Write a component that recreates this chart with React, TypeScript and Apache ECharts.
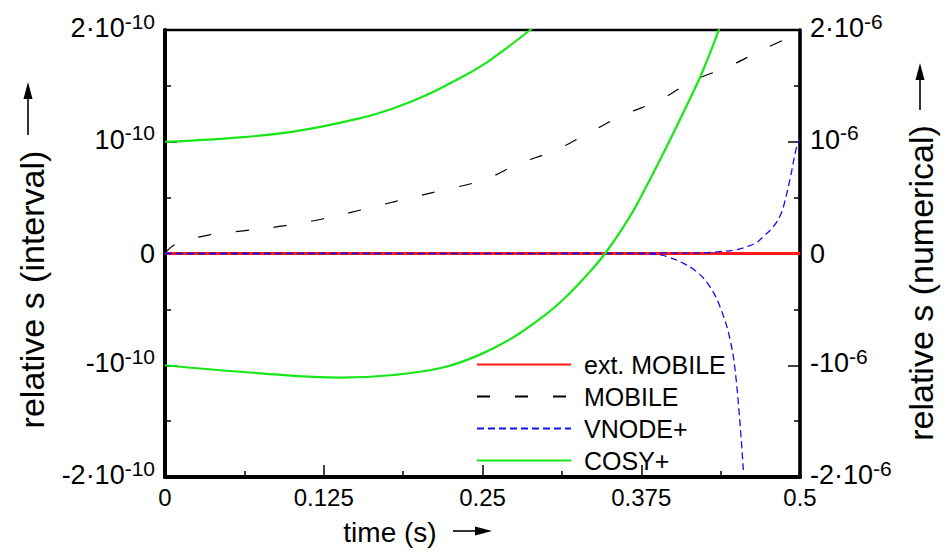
import React, { useEffect, useRef } from 'react';
import * as echarts from 'echarts';

// ---------- data ----------
// x: time (s)
const xTicks = [0, 0.125, 0.25, 0.375, 0.5];
const xTickLabels = ['0', '0.125', '0.25', '0.375', '0.5'];

// y tick labels (values -2..2), mantissa part + exponent part
const leftTickMain = ['-2·10', '-10', '0', '10', '2·10'];
const leftExp = '-10';
const rightTickMain = ['-2·10', '-10', '0', '10', '2·10'];
const rightExp = '-6';

// ext. MOBILE (left axis, units of 1e-10)
const extMobileX = [0, 0.5];
const extMobileY = [0, 0];

// MOBILE (right axis, units of 1e-6)
const mobileX = [0, 0.008, 0.0341, 0.063, 0.0945, 0.1239, 0.154, 0.1837, 0.217, 0.2512, 0.2787, 0.307, 0.3346, 0.361, 0.3898, 0.416, 0.4435, 0.47, 0.5];
const mobileY = [0, 0.08, 0.165, 0.204, 0.249, 0.309, 0.389, 0.472, 0.562, 0.66, 0.804, 0.923, 1.085, 1.239, 1.374, 1.547, 1.672, 1.821, 1.975];

// VNODE+ upper / lower bound (right axis, units of 1e-6)
const vnodeUpX = [0, 0.42, 0.44, 0.45, 0.458, 0.466, 0.471, 0.479, 0.484, 0.487, 0.492, 0.4974, 0.5];
const vnodeUpY = [0, 0.004, 0.02, 0.035, 0.061, 0.1, 0.15, 0.24, 0.33, 0.42, 0.658, 0.956, 1.02];
const vnodeLowX = [0, 0.375, 0.387, 0.396, 0.4055, 0.4187, 0.429, 0.437, 0.445, 0.45, 0.4554];
const vnodeLowY = [0, -0.001, -0.008, -0.03, -0.073, -0.163, -0.297, -0.476, -0.774, -1.16, -1.937];

// COSY+ upper / lower bound (left axis, units of 1e-10)
const cosyUpX = [0, 0.049, 0.101, 0.1535, 0.18, 0.206, 0.232, 0.248, 0.2585, 0.2874, 0.3];
const cosyUpY = [1.0, 1.031, 1.09, 1.21, 1.3, 1.418, 1.568, 1.67, 1.75, 2.0, 2.13];
const cosyLowX = [0, 0.0748, 0.1378, 0.18, 0.219, 0.248, 0.2743, 0.3005, 0.3136, 0.327, 0.3465, 0.366, 0.379, 0.3925, 0.4055, 0.421, 0.4344, 0.445];
const cosyLowY = [-1.0, -1.072, -1.111, -1.087, -1.02, -0.905, -0.75, -0.54, -0.412, -0.258, 0, 0.33, 0.6, 0.9, 1.2, 1.57, 1.95, 2.3];

const legendNames = ['ext. MOBILE', 'MOBILE', 'VNODE+', 'COSY+'];

const FONT = '"Liberation Sans", Arial, Helvetica, sans-serif';
const RED = '#ff1a1a';
const GREEN = '#17e617';
const BLUE = '#1010ee';
const BLACK = '#000000';

const zip = (xs: number[], ys: number[]) => xs.map((x, i) => [x, ys[i]]);

export default function App() {
  const ref = useRef<HTMLDivElement>(null);

  useEffect(() => {
    const chart = echarts.init(ref.current as HTMLDivElement, null, { renderer: 'svg' });

    const yRich = {
      m: { fontSize: 27, fontFamily: FONT, color: BLACK, padding: [4, 0, 8, 0] },
      s: { fontSize: 21, fontFamily: FONT, color: BLACK, verticalAlign: 'top' },
      z: { fontSize: 27, fontFamily: FONT, color: BLACK },
    };
    const yFmt = (mains: string[], exp: string) => (v: number) => {
      const i = Math.round(v) + 2;
      const m = mains[i];
      if (m === undefined) return '';
      return m === '0' ? '{z|0}' : `{m|${m}}{s|${exp}}`;
    };
    const xFmt = (v: number) => {
      const i = xTicks.findIndex((t) => Math.abs(t - v) < 1e-9);
      return i >= 0 ? xTickLabels[i] : '';
    };

    const tickCommon = {
      axisTick: { show: true, inside: true, length: 12, lineStyle: { color: BLACK, width: 1.5 } },
      minorTick: { show: true, splitNumber: 2, length: 6, lineStyle: { color: BLACK, width: 1.5 } },
      splitLine: { show: false },
      minorSplitLine: { show: false },
    };

    const yAxisBase = (pos: 'left' | 'right', width: number, mains: string[], exp: string) => ({
      type: 'value',
      position: pos,
      min: -2,
      max: 2,
      interval: 1,
      axisLine: { show: true, onZero: false, lineStyle: { color: BLACK, width } },
      ...tickCommon,
      axisLabel: {
        margin: 10,
        color: BLACK,
        fontFamily: FONT,
        fontSize: 27,
        formatter: yFmt(mains, exp),
        rich: yRich,
      },
    });

    const lineSeries = (name: string, xs: number[], ys: number[], yAxisIndex: number, color: string, width: number, type: any) => ({
      name,
      type: 'line',
      yAxisIndex,
      data: zip(xs, ys),
      symbol: 'none',
      showSymbol: false,
      smooth: 0.4,
      clip: true,
      color,
      itemStyle: { color },
      lineStyle: { color, width, type },
      emphasis: { disabled: true },
    });

    chart.setOption({
      animation: false,
      backgroundColor: '#ffffff',
      grid: {
        left: 165,
        right: 150,
        top: 30,
        bottom: 75,
        show: true,
        borderColor: BLACK,
        borderWidth: 2.5,
        backgroundColor: 'transparent',
      },
      xAxis: {
        type: 'value',
        position: 'bottom',
        min: 0,
        max: 0.5,
        interval: 0.125,
        axisLine: { show: true, onZero: false, lineStyle: { color: BLACK, width: 4 } },
        ...tickCommon,
        axisLabel: {
          margin: 8,
          color: BLACK,
          fontFamily: FONT,
          fontSize: 24,
          showMinLabel: true,
          showMaxLabel: true,
          formatter: xFmt,
        },
      },
      yAxis: [
        yAxisBase('left', 4, leftTickMain, leftExp),
        yAxisBase('right', 3.5, rightTickMain, rightExp),
      ],
      legend: {
        data: legendNames,
        orient: 'vertical',
        left: 476,
        top: 352,
        padding: 0,
        itemWidth: 94,
        itemHeight: 24,
        itemGap: 7,
        selectedMode: false,
        itemStyle: { opacity: 0 },
        textStyle: { fontSize: 25, fontFamily: FONT, color: BLACK, padding: [0, 0, 0, 8] },
      },
      series: [
        lineSeries('ext. MOBILE', extMobileX, extMobileY, 0, RED, 3, 'solid'),
        lineSeries('MOBILE', mobileX, mobileY, 1, BLACK, 1.2, [13, 25]),
        lineSeries('VNODE+', vnodeUpX, vnodeUpY, 1, BLUE, 1.3, [7, 4]),
        lineSeries('VNODE+', vnodeLowX, vnodeLowY, 1, BLUE, 1.3, [7, 4]),
        lineSeries('COSY+', cosyUpX, cosyUpY, 0, GREEN, 2.2, 'solid'),
        lineSeries('COSY+', cosyLowX, cosyLowY, 0, GREEN, 2.2, 'solid'),
      ],
      graphic: [
        {
          type: 'text',
          x: 390,
          y: 532,
          style: { text: 'time (s)', font: `28px ${FONT}`, fill: BLACK, align: 'center', verticalAlign: 'middle', textAlign: 'center', textVerticalAlign: 'middle' },
        },
        { type: 'line', shape: { x1: 453, y1: 531, x2: 478, y2: 531 }, style: { stroke: BLACK, lineWidth: 1.6 } },
        { type: 'polygon', shape: { points: [[492, 531], [475, 526.5], [475, 535.5]] }, style: { fill: BLACK } },
        {
          type: 'text',
          x: 32,
          y: 289.5,
          rotation: Math.PI / 2,
          style: { text: 'relative s (interval)', font: `34px ${FONT}`, fill: BLACK, align: 'center', verticalAlign: 'middle', textAlign: 'center', textVerticalAlign: 'middle' },
        },
        { type: 'line', shape: { x1: 28, y1: 135, x2: 28, y2: 97 }, style: { stroke: BLACK, lineWidth: 1.6 } },
        { type: 'polygon', shape: { points: [[28, 82], [23.5, 99], [32.5, 99]] }, style: { fill: BLACK } },
        {
          type: 'text',
          x: 921,
          y: 283,
          rotation: Math.PI / 2,
          style: { text: 'relative s (numerical)', font: `34px ${FONT}`, fill: BLACK, align: 'center', verticalAlign: 'middle', textAlign: 'center', textVerticalAlign: 'middle' },
        },
        { type: 'line', shape: { x1: 920, y1: 110, x2: 920, y2: 78 }, style: { stroke: BLACK, lineWidth: 1.6 } },
        { type: 'polygon', shape: { points: [[920, 63], [915.5, 80], [924.5, 80]] }, style: { fill: BLACK } },
      ],
    });

    return () => {
      chart.dispose();
    };
  }, []);

  return (
    <div
      ref={ref}
      style={{ position: 'fixed', left: 0, top: 0, width: 950, height: 552, background: '#ffffff' }}
    />
  );
}
